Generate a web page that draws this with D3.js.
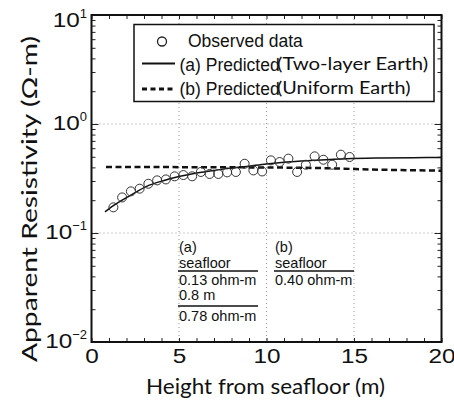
<!DOCTYPE html>
<html>
<head>
<meta charset="utf-8">
<script src="https://cdn.jsdelivr.net/npm/d3@7"></script>
<style>
  body { margin: 0; background: #fff; }
  text { fill: #111; }
</style>
</head>
<body>
<div id="chart"></div>
<script>
// observed data (height in m, apparent resistivity in ohm-m)
var obsHeight = [1.25, 1.75, 2.25, 2.75, 3.25, 3.75, 4.25, 4.75, 5.25, 5.75, 6.25, 6.75, 7.25, 7.75,
  8.25, 8.75, 9.25, 9.75, 10.25, 10.75, 11.25, 11.75, 12.25, 12.75, 13.25, 13.75, 14.25, 14.75];
var obsRho = [0.172, 0.212, 0.241, 0.255, 0.283, 0.304, 0.310, 0.331, 0.340, 0.331, 0.363, 0.348, 0.348, 0.360,
  0.363, 0.432, 0.375, 0.367, 0.464, 0.448, 0.481, 0.363, 0.423, 0.505, 0.470, 0.423, 0.523, 0.498];

// (a) two-layer earth prediction
var twoLayerHeight = [0.77, 1.25, 2.2, 3.15, 4.1, 5.06, 6.0, 6.96, 7.91, 8.87, 10.0, 11.15, 12.67, 14.58, 16.49, 18.39, 20];
var twoLayerRho = [0.156, 0.178, 0.220, 0.268, 0.302, 0.331, 0.355, 0.375, 0.392, 0.408, 0.430, 0.448, 0.464, 0.481, 0.488, 0.491, 0.494];

// (b) uniform earth prediction
var uniformHeight = [0.83, 8.87, 12.67, 16.5, 20];
var uniformRho = [0.403, 0.400, 0.395, 0.381, 0.373];

var xTicks = [0, 5, 10, 15, 20];
var yDecades = [-2, -1, 0, 1];

var svgWidth = 454;
var svgHeight = 401;

var svg = d3.select("#chart")
  .append("svg")
  .attr("width", svgWidth)
  .attr("height", svgHeight);

var plotLeft = 91.5, plotRight = 441.5, plotTop = 15, plotBottom = 342;

var x = d3.scaleLinear().domain([0, 20]).range([plotLeft, plotRight]);
var y = d3.scaleLog().domain([0.01, 10]).range([plotBottom, plotTop]);

// grid
var grid = svg.append("g").attr("stroke", "#9a9a9a").attr("stroke-width", 1).attr("stroke-dasharray", "1,3");
[5, 10, 15].forEach(function(v) {
  grid.append("line").attr("x1", x(v)).attr("x2", x(v)).attr("y1", plotTop).attr("y2", plotBottom);
});
[0.1, 1].forEach(function(v) {
  grid.append("line").attr("x1", plotLeft).attr("x2", plotRight).attr("y1", y(v)).attr("y2", y(v));
});

// minor ticks (inside)
var minorX = d3.range(0, 21);
var minorY = [];
yDecades.slice(0, 3).forEach(function(p) {
  for (var m = 2; m <= 9; m++) minorY.push(m * Math.pow(10, p));
});
var decadeVals = yDecades.map(function(p) { return Math.pow(10, p); });

function tickStyle(g) {
  g.select(".domain").remove();
  g.selectAll("line").attr("stroke", "#222").attr("stroke-width", 1);
}

svg.append("g").attr("transform", `translate(0,${plotBottom})`)
  .call(d3.axisBottom(x).tickValues(minorX).tickSize(-4).tickFormat(""))
  .call(tickStyle);
svg.append("g").attr("transform", `translate(0,${plotTop})`)
  .call(d3.axisTop(x).tickValues(minorX).tickSize(-4).tickFormat(""))
  .call(tickStyle);
svg.append("g").attr("transform", `translate(${plotLeft},0)`)
  .call(d3.axisLeft(y).tickValues(minorY).tickSize(-4).tickFormat(""))
  .call(tickStyle);
svg.append("g").attr("transform", `translate(${plotRight},0)`)
  .call(d3.axisRight(y).tickValues(minorY).tickSize(-4).tickFormat(""))
  .call(tickStyle);
svg.append("g").attr("transform", `translate(${plotLeft},0)`)
  .call(d3.axisLeft(y).tickValues(decadeVals).tickSize(-7).tickFormat(""))
  .call(tickStyle);
svg.append("g").attr("transform", `translate(${plotRight},0)`)
  .call(d3.axisRight(y).tickValues(decadeVals).tickSize(-7).tickFormat(""))
  .call(tickStyle);

// x tick labels
var xAxis = svg.append("g").attr("transform", `translate(0,${plotBottom})`)
  .call(d3.axisBottom(x).tickValues(xTicks).tickSize(0).tickPadding(7).tickFormat(d3.format("d")));
xAxis.select(".domain").remove();
xAxis.selectAll("text")
  .attr("font-family", "Liberation Sans, Arial, sans-serif")
  .attr("font-size", 20)
  .attr("fill", "#111")
  .attr("textLength", function(d) { return String(d).length * 13.5; })
  .attr("lengthAdjust", "spacingAndGlyphs");

// y tick labels 10^n
var yLab = svg.append("g").attr("font-family", "Liberation Sans, Arial, sans-serif");
yDecades.forEach(function(p) {
  var base = y(Math.pow(10, p)) + (p === 1 ? 12 : 6);
  var sup = yLab.append("text")
    .attr("x", 87)
    .attr("y", base - 9)
    .attr("text-anchor", "end")
    .attr("font-size", 13)
    .text(p < 0 ? "\u2212" + (-p) : String(p));
  var w = sup.node().getComputedTextLength();
  yLab.append("text")
    .attr("x", 87 - w)
    .attr("y", base)
    .attr("text-anchor", "end")
    .attr("font-size", 20)
    .attr("textLength", 27)
    .attr("lengthAdjust", "spacingAndGlyphs")
    .text("10");
});

// frame
svg.append("rect")
  .attr("x", plotLeft).attr("y", plotTop)
  .attr("width", plotRight - plotLeft).attr("height", plotBottom - plotTop)
  .attr("fill", "none").attr("stroke", "#111").attr("stroke-width", 2);

// curves
var line = d3.line().x(function(d) { return x(d[0]); }).y(function(d) { return y(d[1]); }).curve(d3.curveMonotoneX);

svg.append("path")
  .datum(uniformHeight.map(function(h, i) { return [h, uniformRho[i]]; }))
  .attr("d", line)
  .attr("fill", "none").attr("stroke", "#111").attr("stroke-width", 2.5).attr("stroke-dasharray", "6,3.5");

svg.append("path")
  .datum(twoLayerHeight.map(function(h, i) { return [h, twoLayerRho[i]]; }))
  .attr("d", line)
  .attr("fill", "none").attr("stroke", "#111").attr("stroke-width", 1.5);

svg.append("g").selectAll("circle")
  .data(obsHeight.map(function(h, i) { return [h, obsRho[i]]; }))
  .enter()
  .append("circle")
  .attr("cx", function(d) { return x(d[0]); })
  .attr("cy", function(d) { return y(d[1]); })
  .attr("r", 4.5)
  .attr("fill", "none")
  .attr("stroke", "#333")
  .attr("stroke-width", 1);

// legend
var legend = svg.append("g");
legend.append("rect")
  .attr("x", 134).attr("y", 24.5).attr("width", 300).attr("height", 77)
  .attr("fill", "#fff").attr("stroke", "#111").attr("stroke-width", 1.5);
legend.append("circle").attr("cx", 162).attr("cy", 41.5).attr("r", 4.5)
  .attr("fill", "none").attr("stroke", "#222").attr("stroke-width", 1.3);
legend.append("line").attr("x1", 142).attr("x2", 175).attr("y1", 63.5).attr("y2", 63.5)
  .attr("stroke", "#111").attr("stroke-width", 2);
legend.append("line").attr("x1", 142).attr("x2", 175).attr("y1", 89).attr("y2", 89)
  .attr("stroke", "#111").attr("stroke-width", 3).attr("stroke-dasharray", "5,3.5");

var legendRows = [
  { x: 188, y: 47, a: "Observed data", b: "" },
  { x: 179.5, y: 70.5, a: "(a) Predicted", b: "(Two-layer Earth)" },
  { x: 179.5, y: 94.5, a: "(b) Predicted", b: "(Uniform Earth)" }
];
legendRows.forEach(function(r) {
  legend.append("text")
    .attr("x", r.x)
    .attr("y", r.y)
    .attr("font-family", "Liberation Sans, Arial, sans-serif")
    .attr("font-size", 17.5)
    .text(r.a);
  if (r.b) {
    legend.append("text")
      .attr("x", 277)
      .attr("y", r.y - 1)
      .attr("font-family", "Lato, sans-serif")
      .attr("font-size", 18)
      .attr("textLength", r.b.length * 8.9)
      .attr("lengthAdjust", "spacingAndGlyphs")
      .text(r.b);
  }
});

// model annotations
var ann = svg.append("g")
  .attr("font-family", "Liberation Sans, Arial, sans-serif")
  .attr("font-size", 14.5);
function annText(xp, yp, s) {
  ann.append("text").attr("x", xp).attr("y", yp).text(s);
}
function annLine(x1, x2, yp) {
  ann.append("line").attr("x1", x1).attr("x2", x2).attr("y1", yp).attr("y2", yp)
    .attr("stroke", "#111").attr("stroke-width", 1.5);
}
annText(179, 251.5, "(a)");
annText(179, 268, "seafloor");
annLine(178, 258, 271);
annText(179, 285, "0.13 ohm-m");
annText(179, 299.5, "0.8 m");
annLine(178, 258, 306);
annText(179, 320.5, "0.78 ohm-m");

annText(275, 251.5, "(b)");
annText(275, 268, "seafloor");
annLine(274, 354, 271);
annText(275, 285, "0.40 ohm-m");

// axis titles
svg.append("text")
  .attr("x", 265.5)
  .attr("y", 394)
  .attr("text-anchor", "middle")
  .attr("font-family", "Lato, sans-serif")
  .attr("font-size", 21)
  .attr("textLength", 239)
  .attr("lengthAdjust", "spacingAndGlyphs")
  .text("Height from seafloor (m)");

svg.append("text")
  .attr("transform", "translate(37,199) rotate(-90)")
  .attr("text-anchor", "middle")
  .attr("font-family", "Lato, sans-serif")
  .attr("font-size", 22)
  .attr("textLength", 326)
  .attr("lengthAdjust", "spacingAndGlyphs")
  .text("Apparent Resistivity (\u03a9-m)");
</script>
</body>
</html>
